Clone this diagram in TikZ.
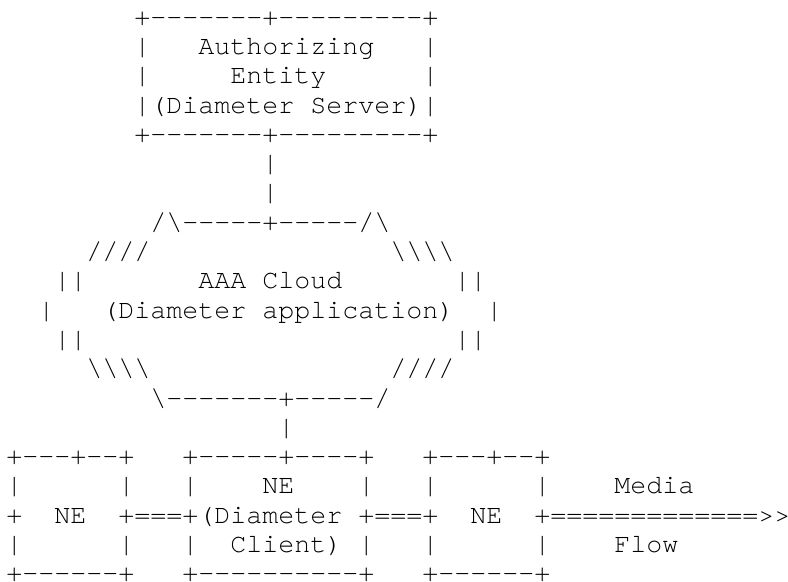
\documentclass[tikz,border=0pt]{standalone}
\usepackage{fontspec}
\setmonofont{TeX Gyre Cursor}
\usetikzlibrary{positioning}

\begin{document}
\begin{tikzpicture}[
    x=8pt, y=-14.65pt,
    txt/.style={font=\ttfamily\fontsize{13.33pt}{14.65pt}\selectfont, inner sep=0pt, anchor=base west}
]
\useasboundingbox (-3pt,12.6pt) rectangle (391pt,-278.4pt);

% Authorizing Entity
\node[txt] (srvtop) at (8,0) {+-------+---------+};
\node[txt] (srvl1) at (8,1) {|};
\node[txt] (srvname1) at (12,1) {Authorizing};
\node[txt] (srvr1) at (26,1) {|};
\node[txt] (srvl2) at (8,2) {|};
\node[txt] (srvname2) at (14,2) {Entity};
\node[txt] (srvr2) at (26,2) {|};
\node[txt] (srvname3) at (8,3) {|(Diameter Server)|};
\node[txt] (srvbot) at (8,4) {+-------+---------+};
\node[txt] (srvlink1) at (16,5) {|};
\node[txt] (srvlink2) at (16,6) {|};

% AAA Cloud
\node[txt] (cloudtop) at (9,7) {/\textbackslash-----+-----/\textbackslash};
\node[txt] (cloudnw) at (5,8) {////};
\node[txt] (cloudne) at (24,8) {\textbackslash\textbackslash\textbackslash\textbackslash};
\node[txt] (cloudwa) at (3,9) {||};
\node[txt] (cloudname1) at (12,9) {AAA Cloud};
\node[txt] (cloudea) at (28,9) {||};
\node[txt] (cloudw) at (2,10) {|};
\node[txt] (cloudname2) at (6,10) {(Diameter application)};
\node[txt] (cloude) at (30,10) {|};
\node[txt] (cloudwb) at (3,11) {||};
\node[txt] (cloudeb) at (28,11) {||};
\node[txt] (cloudsw) at (5,12) {\textbackslash\textbackslash\textbackslash\textbackslash};
\node[txt] (cloudse) at (24,12) {////};
\node[txt] (cloudbot) at (9,13) {\textbackslash-------+-----/};
\node[txt] (cloudlink) at (17,14) {|};

% Network Elements
\node[txt] (neatop) at (0,15) {+---+--+};
\node[txt] (nebtop) at (11,15) {+-----+----+};
\node[txt] (nectop) at (26,15) {+---+--+};

\node[txt] (neal1) at (0,16) {|};
\node[txt] (near1) at (7,16) {|};
\node[txt] (nebl1) at (11,16) {|};
\node[txt] (nebname1) at (16,16) {NE};
\node[txt] (nebr1) at (22,16) {|};
\node[txt] (necl1) at (26,16) {|};
\node[txt] (necr1) at (33,16) {|};
\node[txt] (media1) at (38,16) {Media};

\node[txt] (neal2) at (0,17) {+};
\node[txt] (neaname) at (3,17) {NE};
\node[txt] (nealink) at (7,17) {+===+(Diameter};
\node[txt] (neblink) at (22,17) {+===+};
\node[txt] (necname) at (29,17) {NE};
\node[txt] (flow) at (33,17) {+=============>>};

\node[txt] (neal3) at (0,18) {|};
\node[txt] (near3) at (7,18) {|};
\node[txt] (nebl3) at (11,18) {|};
\node[txt] (nebname3) at (14,18) {Client)};
\node[txt] (nebr3) at (22,18) {|};
\node[txt] (necl3) at (26,18) {|};
\node[txt] (necr3) at (33,18) {|};
\node[txt] (media2) at (38,18) {Flow};

\node[txt] (neabot) at (0,19) {+------+};
\node[txt] (nebbot) at (11,19) {+----------+};
\node[txt] (necbot) at (26,19) {+------+};

\end{tikzpicture}
\end{document}
